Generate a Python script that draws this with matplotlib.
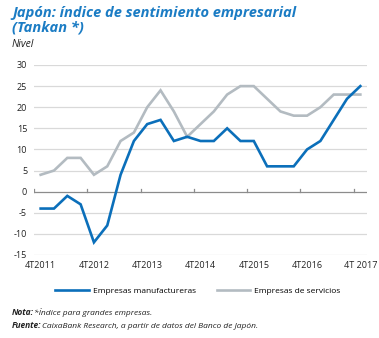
import numpy as np
import matplotlib
matplotlib.use("Agg")
import matplotlib.pyplot as plt

# Japón: Tankan, 4T2011 - 4T2017 (trimestral)
manufactureras = [-4, -4, -1, -3, -12, -8, 4, 12, 16, 17, 12, 13, 12,
                  12, 15, 12, 12, 6, 6, 6, 10, 12, 17, 22, 25]
servicios = [4, 5, 8, 8, 4, 6, 12, 14, 20, 24, 19, 13, 16,
             19, 23, 25, 25, 22, 19, 18, 18, 20, 23, 23, 23]
etiquetas_x = ["4T2011", "4T2012", "4T2013", "4T2014", "4T2015", "4T2016", "4T 2017"]
ticks_y = [-15, -10, -5, 0, 5, 10, 15, 20, 25, 30]

plt.rcParams['font.family'] = ['Open Sans', 'DejaVu Sans']

azul = '#0b6fba'
gris = '#b3bbc1'
titulo_azul = '#1b7cc4'

W, H = 379, 338
fig = plt.figure(figsize=(W / 100, H / 100), dpi=100)
ax = fig.add_axes([34 / W, 1 - 255 / H, (367 - 34) / W, (255 - 65) / H])

x = np.arange(len(manufactureras))
ax.plot(x, servicios, color=gris, lw=1.9, solid_joinstyle='miter',
        label='Empresas de servicios', zorder=3, clip_on=False)
ax.plot(x, manufactureras, color=azul, lw=1.9, solid_joinstyle='miter',
        label='Empresas manufactureras', zorder=4, clip_on=False)

ax.set_xlim(-0.5, len(x) - 0.5)
ax.set_ylim(-15, 30)

# rejilla horizontal
for v in ticks_y:
    if v != 0:
        ax.axhline(v, color='#d9d9d9', lw=0.9, zorder=1)
ax.axhline(0, color='#8c8c8c', lw=0.9, zorder=2)
# marcas en el eje cero, entre categorias
for t in np.arange(-0.5, len(x), 4):
    ax.plot([t, t], [0, 0.7], color='#8c8c8c', lw=0.9, zorder=2)

ax.set_yticks(ticks_y)
ax.set_yticklabels([str(v) for v in ticks_y], fontsize=6.5, color='#222222')
ax.set_xticks(x[::4])
ax.set_xticklabels(etiquetas_x, fontsize=6.5, color='#222222')
ax.tick_params(length=0, pad=5)
ax.tick_params(axis='x', pad=4)
for s in ax.spines.values():
    s.set_visible(False)

# titulo
fig.text(12 / W, 1 - 17 / H, "Japón: índice de sentimiento empresarial",
         color=titulo_azul, fontsize=10.5, fontweight='bold', style='italic')
fig.text(12 / W, 1 - 31 / H, "(Tankan *)",
         color=titulo_azul, fontsize=10.5, fontweight='bold', style='italic')
fig.text(12 / W, 1 - 47 / H, "Nivel", color='#222222', fontsize=7.5, style='italic')

# leyenda
handles, labels = ax.get_legend_handles_labels()
fig.legend(handles[::-1], labels[::-1], loc='center',
           bbox_to_anchor=(198 / W, 1 - 291 / H), ncol=2, frameon=False,
           fontsize=6, handlelength=4.0, handletextpad=0.5, columnspacing=2.5)

# notas
n1 = fig.text(12 / W, 1 - 315 / H, "Nota:", fontsize=6, fontweight='bold',
              style='italic', color='#222222')
ax.annotate("*Índice para grandes empresas.", xy=(1, 0), xycoords=n1,
            xytext=(0.3, 0), textcoords='offset points',
            fontsize=6, style='italic', color='#222222', va='bottom')
n2 = fig.text(12 / W, 1 - 328 / H, "Fuente:", fontsize=6, fontweight='bold',
              style='italic', color='#222222')
ax.annotate("CaixaBank Research, a partir de datos del Banco de Japón.", xy=(1, 0),
            xycoords=n2, xytext=(0.3, 0), textcoords='offset points',
            fontsize=6, style='italic', color='#222222', va='bottom')

fig.savefig("out.png", dpi=100)
